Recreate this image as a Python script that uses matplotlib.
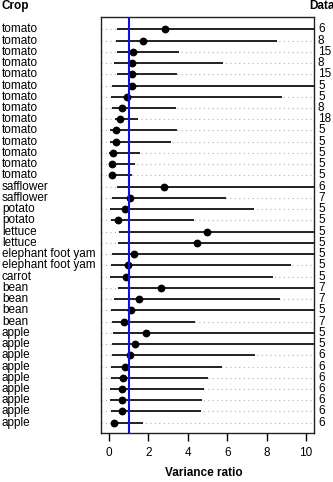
import matplotlib
matplotlib.use("Agg")
import matplotlib.pyplot as plt
import matplotlib.transforms as mtransforms
import numpy as np

plt.rcParams['font.family'] = ['Liberation Sans', 'DejaVu Sans']

# rows listed top to bottom
crops = ["tomato"] * 14 + ["safflower"] * 2 + ["potato"] * 2 + ["lettuce"] * 2 + \
        ["elephant foot yam"] * 2 + ["carrot"] + ["bean"] * 4 + ["apple"] * 9
data_n = [6, 8, 15, 8, 15, 5, 5, 8, 18, 5, 5, 5, 5, 5,
          6, 7, 5, 5, 5, 5, 5, 5, 5, 7, 7, 5, 7,
          5, 5, 6, 6, 6, 6, 6, 6, 6]
ratio = [2.86, 1.73, 1.22, 1.18, 1.18, 1.17, 0.90, 0.68, 0.54, 0.37, 0.34, 0.19, 0.15, 0.15,
         2.79, 1.05, 0.80, 0.46, 4.99, 4.47, 1.27, 0.98, 0.86,
         2.66, 1.51, 1.13, 0.78,
         1.90, 1.34, 1.07, 0.81, 0.71, 0.68, 0.66, 0.64, 0.25]
ci_low = [0.41, 0.36, 0.39, 0.24, 0.39, 0.14, 0.10, 0.15, 0.32, 0.07, 0.07, 0.03, 0.02, 0.02,
          0.39, 0.17, 0.08, 0.12, 0.52, 0.46, 0.14, 0.10, 0.08,
          0.44, 0.27, 0.12, 0.14,
          0.22, 0.14, 0.14, 0.12, 0.10, 0.08, 0.08, 0.10, 0.12]
ci_high = [14.0, 8.53, 3.57, 5.77, 3.43, 14.0, 8.80, 3.40, 1.47, 3.45, 3.13, 1.59, 1.32, 1.18,
           14.0, 5.96, 7.34, 4.30, 14.0, 14.0, 14.0, 9.24, 8.31,
           14.0, 8.66, 14.0, 4.38,
           14.0, 14.0, 7.41, 5.72, 5.01, 4.81, 4.72, 4.67, 1.73]
xticks = [0, 2, 4, 6, 8, 10]

n = len(crops)
ys = np.arange(n, 0, -1)

fig = plt.figure(figsize=(3.33, 4.82), dpi=100)
ax = fig.add_axes([101/333, 1 - 433.3/482, (314 - 101)/333, (433.3 - 17.3)/482])
ax.set_xlim(-0.4, 10.4)
ax.set_ylim(0.06, n + 1.07)

for y in ys:
    ax.axhline(y, color='#b0b0b0', lw=0.8, ls=(0, (1, 3)), zorder=1)

ax.hlines(ys, ci_low, ci_high, color='#111111', lw=1.3, zorder=2)
ax.plot(ratio, ys, 'o', color='black', ms=4.6, zorder=3)
ax.axvline(1, color='#1010e0', lw=1.5, zorder=4)

ax.set_yticks([])
ax.set_xticks(xticks)
ax.set_xticklabels([str(t) for t in xticks], fontsize=8.5)
ax.tick_params(axis='x', direction='out', length=6, width=1, pad=4)
for s in ax.spines.values():
    s.set_linewidth(1.0)
    s.set_color('#222222')

trans_l = mtransforms.blended_transform_factory(fig.transFigure, ax.transData)
for y, c, d in zip(ys, crops, data_n):
    fig.text(2/333, y, c, transform=trans_l, ha='left', va='center', fontsize=8.5)
    fig.text(318/333, y, str(d), transform=trans_l, ha='left', va='center', fontsize=8.5)

fig.text(2/333, 1 - 5.7/482, "Crop", ha='left', va='center', fontsize=8.5, fontweight='bold')
fig.text(309/333, 1 - 5.7/482, "Data", ha='left', va='center', fontsize=8.5, fontweight='bold')
fig.text(204/333, 1 - 473/482, "Variance ratio", ha='center', va='center', fontsize=8.5, fontweight='bold')

fig.savefig("out.png", dpi=100)
